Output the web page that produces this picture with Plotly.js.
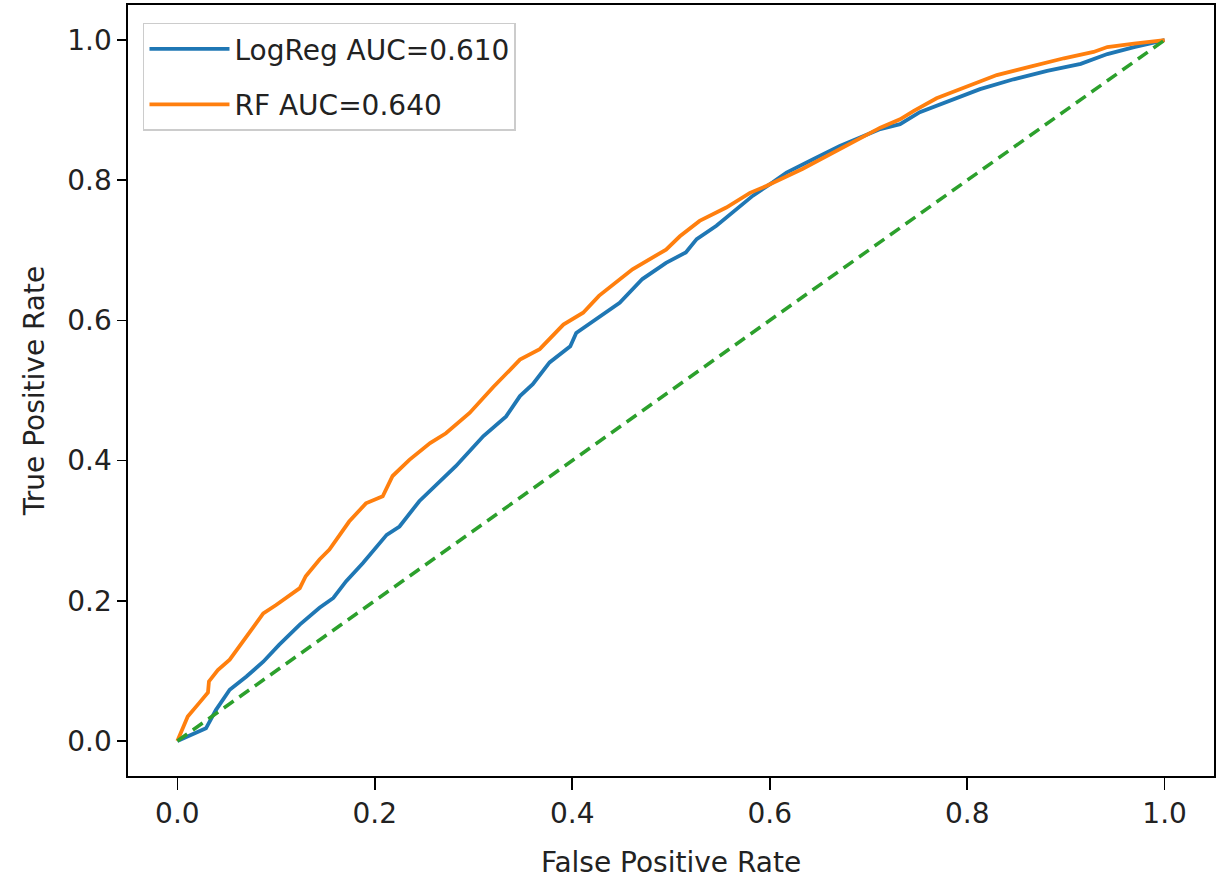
<!DOCTYPE html>
<html>
<head>
<meta charset="utf-8">
<script src="https://cdn.plot.ly/plotly-3.0.1.min.js"></script>
<style>html,body{margin:0;padding:0;background:#fff;}#chart{width:1223px;height:879px;}</style>
</head>
<body>
<div id="chart"></div>
<script>
// LogReg ROC curve
const logregFpr = [0, 0.010, 0.019, 0.029, 0.039, 0.053, 0.070, 0.087, 0.103, 0.124, 0.144, 0.158, 0.171, 0.188, 0.212, 0.225, 0.245, 0.266, 0.282, 0.310, 0.333, 0.347, 0.360, 0.377, 0.398, 0.404, 0.421, 0.448, 0.471, 0.495, 0.515, 0.526, 0.546, 0.563, 0.583, 0.603, 0.617, 0.644, 0.671, 0.712, 0.732, 0.752, 0.779, 0.813, 0.847, 0.881, 0.915, 0.928, 0.942, 0.969, 1.0];
const logregTpr = [0, 0.006, 0.011, 0.018, 0.044, 0.073, 0.092, 0.113, 0.137, 0.166, 0.190, 0.204, 0.228, 0.254, 0.294, 0.306, 0.342, 0.370, 0.392, 0.435, 0.463, 0.492, 0.509, 0.540, 0.563, 0.582, 0.599, 0.625, 0.659, 0.682, 0.697, 0.716, 0.735, 0.754, 0.778, 0.797, 0.811, 0.830, 0.849, 0.873, 0.880, 0.897, 0.911, 0.930, 0.944, 0.956, 0.966, 0.973, 0.980, 0.990, 1.0];
// Random forest ROC curve
const rfFpr = [0, 0.0105, 0.022, 0.031, 0.032, 0.041, 0.053, 0.063, 0.073, 0.087, 0.100, 0.117, 0.124, 0.130, 0.144, 0.154, 0.174, 0.191, 0.208, 0.218, 0.235, 0.256, 0.272, 0.296, 0.320, 0.347, 0.367, 0.391, 0.411, 0.427, 0.461, 0.495, 0.509, 0.529, 0.556, 0.580, 0.597, 0.633, 0.664, 0.691, 0.712, 0.732, 0.746, 0.769, 0.796, 0.830, 0.864, 0.898, 0.928, 0.942, 0.969, 1.0];
const rfTpr = [0, 0.035, 0.054, 0.069, 0.085, 0.101, 0.116, 0.135, 0.154, 0.182, 0.194, 0.211, 0.218, 0.235, 0.259, 0.273, 0.313, 0.339, 0.349, 0.378, 0.401, 0.425, 0.439, 0.468, 0.505, 0.544, 0.559, 0.594, 0.611, 0.635, 0.673, 0.701, 0.720, 0.742, 0.761, 0.782, 0.792, 0.816, 0.839, 0.859, 0.875, 0.887, 0.899, 0.917, 0.931, 0.950, 0.962, 0.974, 0.983, 0.990, 0.995, 1.0];
// Chance diagonal
const chanceX = [0, 1];
const chanceY = [0, 1];
const seriesNames = ["LogReg AUC=0.610", "RF AUC=0.640"];
const tickVals = [0.0, 0.2, 0.4, 0.6, 0.8, 1.0];
const tickText = ["0.0", "0.2", "0.4", "0.6", "0.8", "1.0"];

const FONT = "DejaVu Sans, Liberation Sans, sans-serif";

const traces = [
  {x: logregFpr, y: logregTpr, type: "scatter", mode: "lines", name: seriesNames[0], legendgroup: "a",
   line: {color: "#1f77b4", width: 3.8}},
  {x: rfFpr, y: rfTpr, type: "scatter", mode: "lines", name: seriesNames[1], legendgroup: "b",
   line: {color: "#ff7f0e", width: 3.8}},
  {x: chanceX, y: chanceY, type: "scatter", mode: "lines", showlegend: false,
   line: {color: "#2ca02c", width: 3.5, dash: "12px,7px"}}
];

const axisCommon = {
  range: [-0.05, 1.05], tickvals: tickVals, ticktext: tickText,
  showgrid: false, zeroline: false, showline: true, mirror: true,
  linecolor: "#000", linewidth: 1.6, ticks: "outside", tickcolor: "#000", tickwidth: 1.6,
  tickfont: {family: FONT, size: 28, color: "#222"}
};

const layout = {
  width: 1223, height: 879,
  margin: {l: 128, r: 9, t: 5, b: 103},
  paper_bgcolor: "#fff", plot_bgcolor: "#fff",
  font: {family: FONT, color: "#222"},
  xaxis: Object.assign({}, axisCommon, {ticklen: 12,
    title: {text: "False Positive Rate", font: {family: FONT, size: 28, color: "#222"}, standoff: 23}}),
  yaxis: Object.assign({}, axisCommon, {ticklen: 9,
    title: {text: "True Positive Rate", font: {family: FONT, size: 28, color: "#222"}, standoff: 14}}),
  showlegend: true,
  legend: {
    x: 0.0138, y: 0.977, xanchor: "left", yanchor: "top",
    bgcolor: "rgba(255,255,255,0.8)", bordercolor: "#cccccc", borderwidth: 1.5,
    font: {family: FONT, size: 28, color: "#222"},
    tracegroupgap: 16, itemwidth: 80
  }
};

Plotly.newPlot("chart", traces, layout, {staticPlot: true, displayModeBar: false});
</script>
</body>
</html>
